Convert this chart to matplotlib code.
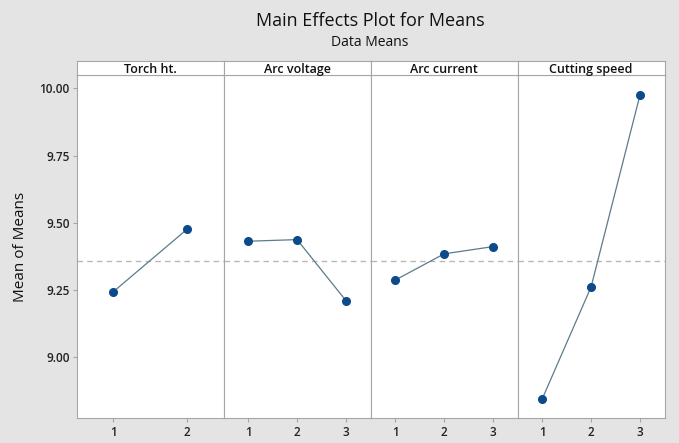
import numpy as np
import matplotlib.pyplot as plt

plt.rcParams['font.family'] = ['Open Sans', 'DejaVu Sans']

# factor names and level means
factors = ['Torch ht.', 'Arc voltage', 'Arc current', 'Cutting speed']
levels = [[1, 2], [1, 2, 3], [1, 2, 3], [1, 2, 3]]
means = [
    [9.243, 9.475],
    [9.431, 9.437, 9.209],
    [9.286, 9.384, 9.411],
    [8.843, 9.261, 9.977],
]
grand_mean = 9.359
yticks = [9.00, 9.25, 9.50, 9.75, 10.00]

bg = '#e4e4e4'
edge = '#a6a6a6'
mk_col = '#0d4a8a'
ln_col = '#5c7b8a'
txt = '#222222'

fig = plt.figure(figsize=(6.79, 4.43), dpi=100, facecolor=bg)

left, right = 0.1128, 0.9788
bottom, top = 0.0571, 0.8296
strip_h = 0.0316
w = (right - left) / len(factors)

axes = []
for i, name in enumerate(factors):
    ax = fig.add_axes([left + i * w, bottom, w, top - bottom])
    axes.append(ax)
    x = levels[i]
    ax.plot(x, means[i], '-', color=ln_col, lw=0.9, zorder=2)
    ax.plot(x, means[i], 'o', color=mk_col, ms=5.5, zorder=3)
    ax.axhline(grand_mean, color='#b8b8b8', lw=1.0, ls=(0, (4, 3)), zorder=1)
    ax.set_xlim(0.5, len(x) + 0.5)
    ax.set_ylim(8.774, 10.048)
    ax.set_xticks(x)
    ax.set_xticklabels([str(v) for v in x], fontsize=8.5, color=txt,
                       fontweight='semibold')
    ax.set_yticks(yticks)
    if i == 0:
        ax.set_yticklabels(['%.2f' % v for v in yticks], fontsize=8.5, color=txt,
                           fontweight='semibold')
        ax.set_ylabel('Mean of Means', fontsize=11, color='#111111', labelpad=8,
                      fontweight='medium')
        ax.tick_params(axis='y', length=3, color=edge, pad=2)
    else:
        ax.tick_params(axis='y', length=0, labelleft=False)
    ax.tick_params(axis='x', length=3, color=edge, pad=3)
    for s in ax.spines.values():
        s.set_color(edge)
        s.set_linewidth(0.8)
    ax.set_facecolor('white')

    # strip with the factor name
    sax = fig.add_axes([left + i * w, top, w, strip_h])
    sax.set_facecolor('white')
    sax.set_xticks([])
    sax.set_yticks([])
    for s in sax.spines.values():
        s.set_color(edge)
        s.set_linewidth(0.8)
    sax.text(0.5, 0.45, name, ha='center', va='center', fontsize=9,
             fontweight='semibold', color='#111111', transform=sax.transAxes)

fig.text(0.545, 0.952, 'Main Effects Plot for Means', ha='center', va='center',
         fontsize=13, fontweight='medium', color='#111111')
fig.text(0.545, 0.903, 'Data Means', ha='center', va='center',
         fontsize=10, fontweight='medium', color='#111111')

fig.savefig('out.png', dpi=100, facecolor=bg)
